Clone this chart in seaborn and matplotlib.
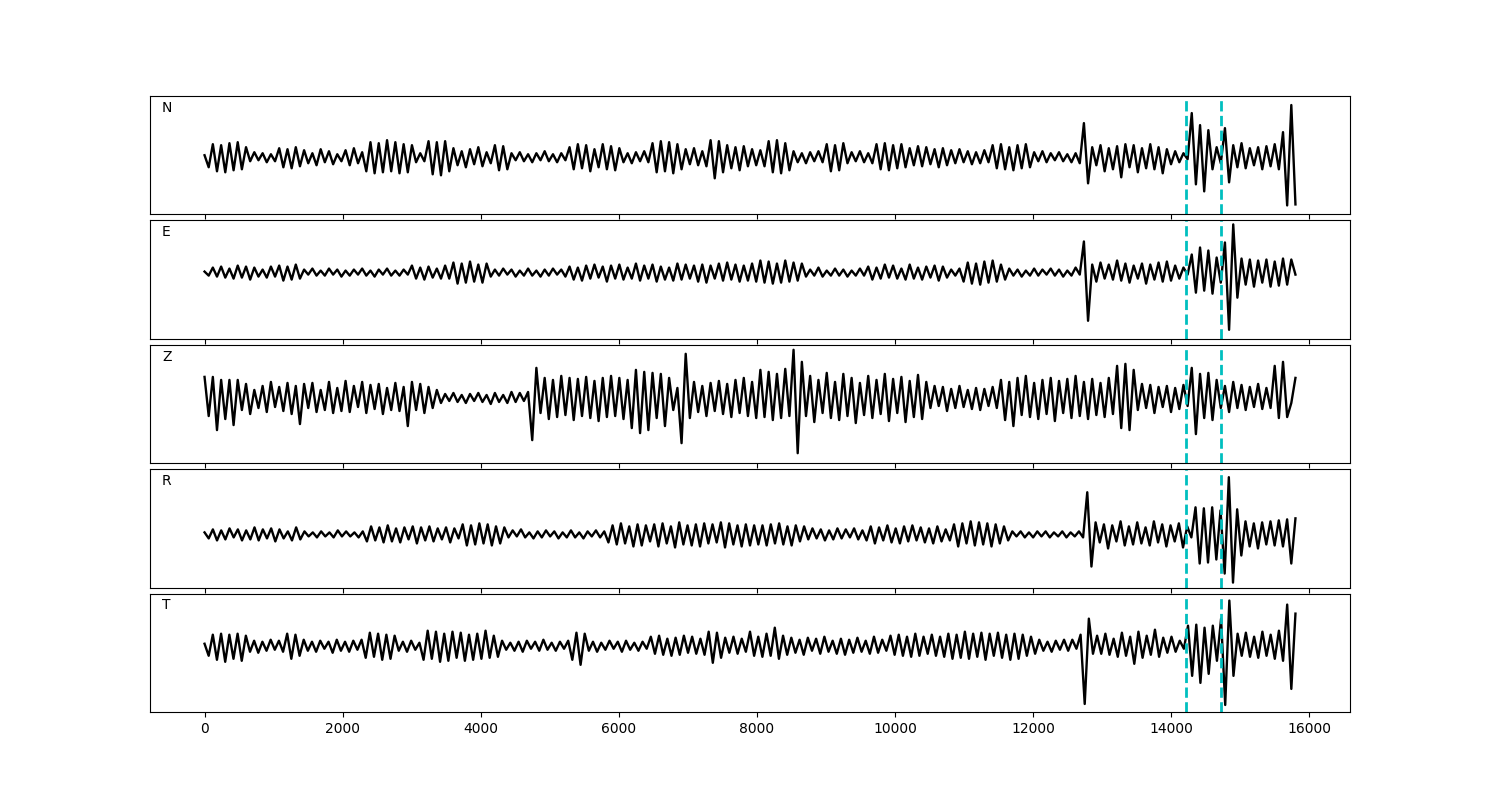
import numpy as np
import matplotlib
matplotlib.use("Agg")
import matplotlib.pyplot as plt
import seaborn as sns
import pandas as pd

# ---------------- data (amplitudes of successive extrema) -------------
duration = 15800
components = ["N", "E", "Z", "R", "T"]
marker_times = [14215, 14720]

trace_N = [
    2, -10, 13, -14, 12, -15, 14, -13, 15, -12, 10,
    -4, 5, -3, 4, -5, 3, -4,
    9, -10, 8, -11, 10, -9,
    7, -6, 4, -8, 8, -5, 6, -7, 3, -4, 7, -8, 9, -6, 5,
    -14, 15, -16, 14, -15, 17, -14, 15, -16, 13, -15, 12,
    -5, 4, -4,
    16, -17, 15, -18, 16, -14,
    9, -8, 6, -10, 8, -7, 10, -9, 5, -6,
    12, -13, 11, -12,
    4, -3, 5, -4, 3, -5, 4, -3, 6, -4, 3, -5, 4, -3,
    10, -12, 13, -11, 12, -14, 8, -10, 13, -12, 11, -13, 9,
    -5, 4, -6, 5, -4, 6, -5,
    14, -15, 16, -14, 15, -16, 13, -12,
    8, -7, 9, -8, 6, -9,
    17, -21, 16, -15,
    12, -11, 10, -13, 11, -9, 8,
    -8, 7, -9,
    16, -15, 17, -16, 14, -13,
    6, -5, 4, -6, 5, -4, 6, -5,
    13, -14, 12, -13, 14,
    -6, 5, -4, 6, -5, 4, -6,
    13, -12, 14, -13, 12, -11, 13,
    -10, 9, -8, 11, -9, 10, -7, 8, -10, 9, -8,
    7, -6, 8, -5, 6, -7, 5, -6, 7, -5,
    12, -11, 13, -12, 10, -13, 12, -11, 13, -10,
    5, -4, 6, -5, 4, -3, 5, -4, 3, -5, 4,
    -6, 34, -26,
    10, -8, 12, -14, 9, -12, 11, -20, 13, -10, 12, -15, 9, -11, 13, -12, 10, -16, 8, -7, 6, -5, 4,
    -2,
    44, -27, 32, -34, 27, -12, 10, -6, 29, -25,
    12, -10, 14, -11, 9, -8, 10, -12, 11, -9, 13,
    -12, 25, -48, 52, -47,
]

trace_E = [
    1, -3, 5, -4, 6, -5, 4, -6, 7, -5, 6, -7, 5, -4, 3, -5, 6, -4, 7, -8, 6, -7, 8, -6,
    3, -2, 4, -3, 2, -3, 4, -2, 3, -4, 2, -3, 3, -2, 4, -3, 2, -4, 3, -2, 4, -3, 2, -3, 3, -2,
    7, -6, 5, -7, 6, -5, 4, -6, 7, -6,
    10, -11, 9, -10, 11, -9, 8, -10, 9,
    -4, 3, -3, 4, -2, 3, -4, 2, -3, 4, -3, 2, -4, 3, -3, 4, -2, 3, -4,
    6, -7, 5, -8, 7, -6, 8, -5, 6, -9, 7, -6, 8, -7, 5, -6, 9, -8, 7, -6,
    8, -9, 6, -7, 5, -8, 9, -7, 8, -6, 7, -9, 8, -10, 7, -6, 9, -8, 10, -7,
    8, -9, 7, -8, 9,
    -9, 12, -10, 11, -11, 9, -10, 12, -9, 10, -8, 9,
    -4, 3, -3, 5, -4, 2, -3, 4, -3, 3, -4, 2, -3, 4, -3,
    6, -7, 5, -6, 8, -5, 7, -6, 4, -7, 8, -6, 5, -7, 6, -5, 7, -8, 6, -5,
    3, -3, 4,
    -9, 10, -11, 9, -12, 11, -10, 12, -9, 8, -7,
    4, -3, 3, -4, 2, -3, 4, -3, 3, -2, 4, -3, 3, -4, 2, -3,
    5, -2, 31, -48, 8,
    -9, 10, -6, 8, -7, 12, -8, 9, -10, 7, -6, 9, -11, 8, -7, 10, -9, 11, -8, 7, -6, 5,
    -2, 18, -20, 25, -18, 22, -21, 15,
    -10, 30, -57, 48, -25,
    14, -12, 13, -14, 12, -10, 13, -14, 11, -13, 14, -12, 13, -2,
]

trace_Z = [
    21, -18, 21, -32, 18, -21, 18, -27, 18, -12,
    14, -16, 8, -10, 12, -14, 16, -9, 11, -13, 15, -16, 12,
    -26,
    14, -10, 15, -14, 8, -12, 16, -15, 10, -13, 17, -14, 12, -9, 16, -15, 13, -11, 14, -16,
    10, -12, 15, -13, 11,
    -28,
    16, -12, 14, -15, 11, -10, 8,
    -5, 4, -3, 5, -4, 3, -5, 4, -3, 5, -4, 3, -6, 5, -4, 3, -5, 6, -4, 5, -3, 6,
    -42, 30, -15,
    20, -21, 18, -19, 22, -17, 20, -22, 19, -18, 21, -20, 17, -23, 20, -19, 22, -18, 20, -21, 18,
    -30, 28, -35, 26, -32, 25, -20, 24, -28,
    20, -12, 10, -45, 44, -20,
    16, -14, 12, -18, 15, -13, 17, -16, 14, -19, 18, -15, 20, -18, 16,
    -20, 28, -19, 26, -22, 24, -20, 29, -18,
    48, -55, 36, -18,
    22, -24, 18, -15, 25, -20, 16, -22, 24, -18, 20, -25, 15, -17, 22, -20, 18, -16, 24, -23,
    19, -15, 21, -24, 17, -19, 23, -21, 16,
    -10, 12, -8, 11, -13, 9, -10, 12, -9, 8, -11, 10, -12, 9, -8, 11, -10,
    18, -22, 16, -28, 20, -17, 22, -19, 15, -21, 18, -16, 20, -23, 17, -15, 19, -20, 22, -18,
    16, -21, 19, -17, 15, -19, 20, -16,
    32, -30, 34, -32, 28,
    -12, 14, -10, 13, -15, 11, -9, 12, -14, 10, -11, 13, -8,
    30, -36, 24, -20, 25, -22, 18, -10,
    12, -14, 16, -10, 13, -12, 11, -9, 14, -11, 10,
    -10, 32, -20, 36, -19, -5, 20,
]

trace_R = [
    2, -4, 5, -6, 4, -5, 6, -3, 5, -6, 4, -5, 7, -6, 5, -4, 6, -7, 5, -4, 3, -6, 7, -5,
    3, -2, 2, -3, 3, -2, 2, -3, 4, -2, 3, -2, 2, -3, 3,
    -7, 8, -6, 7, -8, 9, -7, 6, -8, 7, -5, 8, -9, 7, -6, 8, -7, 6, -5, 7, -8, 6, -4,
    10, -11, 9, -10, 11, -9, 10, -11, 8, -9, 7,
    -3, 4, -2, 5, -3, 2, -4, 3, -3, 4, -2, 3, -4, 2, -3, 4, -3, 2, -4, 3, -2, 4, -3, 3,
    -8, 9, -10, 11, -9, 8, -12, 10, -11, 9, -7, 10, -12, 11, -9, 8, -13, 12, -10, 9,
    -11, 10, -12, 11, -9, 10, -8, 12, -13, 11, -10, 9, -12, 10, -11, 9,
    -10, 9, -11, 10, -9, 11, -10, 8, -11, 9, -7, 8,
    -5, 6, -4, 5, -6, 4, -5, 6, -4, 5, -3, 6, -5, 4, -6,
    8, -9, 7, -6, 9, -8, 6, -9, 8, -7, 9, -6, 7, -8, 6, -9, 8, -7, 5, -6,
    10, -12, 11, -9, 13, -11, 12, -10, 11, -12, 10, -9, 8, -6,
    3, -2, 3, -3, 2, -3, 3, -2, 3, -3, 2, -2, 3, -3, 2, -2, 3,
    -3, 42, -32,
    12, -8, 10, -14, 9, -7, 13, -11, 8, -10, 12, -9, 7, -11, 13, -8, 10, -12, 9, -7, 11, -13, 8, -3,
    27, -29, 26, -28, 27, -25, 24, -39,
    57, -48, 25, -21,
    13, -12, 11, -14, 12, -10, 13, -11, 14, -12, 15, -29, 16,
]

trace_T = [
    2, -10, 11, -14, 12, -16, 11, -13, 12, -15, 10,
    -6, 5, -7, 4, -5, 6, -4, 5, -6,
    12, -13, 11, -10,
    6, -5, 4, -6, 5, -3, 4, -7, 6, -5, 4, -6, 5, -4, 6,
    -12, 13, -11, 12, -14, 11, -13, 10,
    -5, 4, -6, 5, -4, 3,
    -14, 15, -13, 14, -16, 12, -15, 14, -12, 13, -15, 11, -14, 12, -13, 15, -12, 10, -11,
    5, -4, 3, -5, 4, -6, 5, -3, 4, -5, 6, -4, 3, -5, 4, -3, 5,
    -14, 13, -19, 12,
    -5, 4, -6, 3, -4, 5, -3, 4, -6, 5, -4, 3, -5, 4, -3,
    9, -8, 10, -9, 7, -10, 8, -9, 10, -7, 9, -8, 7, -9,
    14, -17, 13, -12,
    8, -7, 9, -8, 7, -6, 14,
    -10, 9, -11, 12, -10, 18, -13, 10, -9,
    8, -7, 6, -9, 8, -5, 7, -8, 9, -6, 5, -8, 7, -9, 6, -7, 8, -6, 5, -8, 9, -7, 6, -5,
    10, -9, 11, -10, 9, -11, 12, -10, 9, -8, 11, -10, 9, -11,
    12, -13, 11, -12, 14, -13, 12, -11, 13, -14, 12, -10, 13, -12, 11, -14, 12, -13, 11, -10, 9, -8,
    6, -5, 4, -6, 5, -4, 6, -5,
    6, -3, 11, -58, 27, -8,
    10, -8, 12, -9, 7, -11, 13, -10, 9, -18, 14, -12, 10, -9, 16, -11, 8, -7, 9, -6, 5, -3,
    20, -30, 21, -37, 18, -28, 20, -15,
    27, -59, 45, -30,
    12, -10, 13, -11, 9, -12, 14, -10, 11, -13, 15,
    -15, 41, -43, 32,
]

traces = {"N": trace_N, "E": trace_E, "Z": trace_Z, "R": trace_R, "T": trace_T}

# ---------------- layout / style -------------
baseline_shift = {"N": -2, "E": 7, "Z": 6, "R": -6, "T": 7}
half_range = 59

fig, axes = plt.subplots(5, 1, figsize=(15, 8), dpi=100, sharex=True)
fig.subplots_adjust(left=0.1, right=0.9, top=0.88, bottom=0.11, hspace=0.05)

for ax, comp in zip(axes, components):
    vals = traces[comp]
    df = pd.DataFrame({"t": np.linspace(0, duration, len(vals)), "amp": vals})
    sns.lineplot(data=df, x="t", y="amp", ax=ax, color="black", linewidth=1.7,
                 estimator=None, sort=False)
    for mt in marker_times:
        ax.axvline(mt, color="c", linestyle="--", linewidth=2)
    off = baseline_shift[comp]
    ax.set_ylim(-half_range - off, half_range - off)
    ax.set_yticks([])
    ax.set_ylabel("")
    ax.set_xlabel("")
    ax.text(0.01, 0.9, comp, transform=ax.transAxes, ha="left", va="center", fontsize=10)

axes[-1].set_xlim(-790, 16590)
axes[-1].set_xticks(np.arange(0, 16001, 2000))

fig.savefig("out.png", dpi=100)
